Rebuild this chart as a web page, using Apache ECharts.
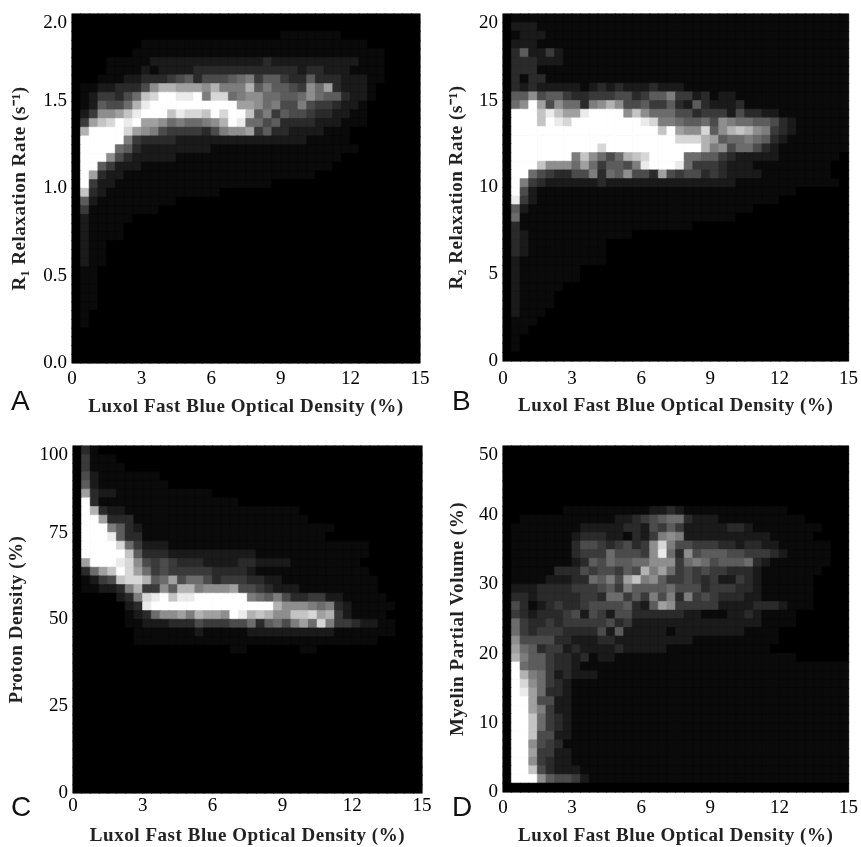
<!DOCTYPE html>
<html><head><meta charset="utf-8">
<style>html,body{margin:0;padding:0;background:#fff}#c{width:861px;height:847px;filter:blur(0.4px)}</style>
<script src="https://cdn.jsdelivr.net/npm/echarts@6/dist/echarts.min.js"></script>
</head><body><div id="c"></div>
<script>
// Grey level of each cell, one hex digit per column (0 black .. f white), top row first.
const rowsA = [
"","",
"0000000000000000000000001111111",
"000000001111111111111111111111111100",
"000000011111111111111111111111111111",
"000011111222222222222232222222222111",
"000011112122223333333333332332221111",
"000111223334563555678466433633322211",
"011223335"+"9bbaaa9b8"+"88b686654"+"97a32221",
"01244357cdffeef8dd7899776"+"6797663221",
"0126557be"+"ffffffffff"+"aa9785585443221",
"02499acefffceddcfdffc6846554332211",
"04acdfefaa9787789bfe7756"+"3333222111",
"0bffffda98544443"+"5899a463"+"32222111",
"0fffff843333"+"222222222222222"+"11111",
"0ffff76322222"+"22211111111111111111",
"0fff95322222"+"1111111111111111111",
"0ff642221111111111111111111111",
"0fa322111111111111111111111100",
"0f4221111111111111111110",
"0c321111111111111",
"062111111111",
"0411111111",
"0211111",
"021111","021111","021100","021100","0211","0110",
"011","011","011","011","01","01","","","",""
];
const rowsB = [
"0111111111111111111111111111111111111111",
"0222111111111111111111111111111111111111",
"0122211111111111111111111111111111111111",
"0222111111111111111111111111111111111111",
"0362242111111111111111111111111111111111",
"0333222111111111111111111111111111111111",
"0333111111111111111111111111111111111111",
"0313311111111111111111111111111111111111",
"032322222123232223222"+"1111111111111111111",
"0669566433444553466844231221"+"111111111111",
"079fa59773"+"89b955644632"+"632223"+"111111111111",
"0fffcecaaeffff"+"9c977755"+"34442"+"533221"+"111111111",
"0fffcfedf"+"fffffff"+"ed887667"+"59877665"+"32111111",
"0fffffffffffffffff"+"cfa99d69bcb98432"+"111111",
"0fffffffffffffffffff"+"dddba677876321"+"111111",
"0ffffffffffdfffffffffff"+"b895775321"+"1111111",
"0fffffff"+"8c9757bcd"+"ffff"+"77664322222"+"1111111",
"0fff"+"c9997a746658e"+"fff"+"e744432221"+"11111111",
"0ff"+"754335583769553a54553432"+"22211111111",
"0f843"+"222222"+"3"+"22222222222"+"2222"+"111111111111",
"0f52"+"111111111111111111111111111111",
"0e42"+"1111111111111111111111111111",
"062"+"11111111111111111111111111",
"071"+"111111111111111111111111",
"0311111111111111111111",
"032111111111111","032111111111","032111111111","021111111111","021111111","021111111",
"0211111","021111","021111","02111","0111","011","01","01",""
];
const rowsC = [
"031","04111","041111","0521111111","06211111111",
"0a32211111111111",
"0f31111111111111111",
"0fb32211111111111111111111",
"0ffa33311111111111111111111",
"0fff86321111111111111111111111",
"0fffe633111111111111111111111",
"0ffffd7422211111111111111111111111",
"0fffffc633322222222221111111111111",
"0afffed95454333222233222211111111",
"0"+"37acfda74"+"544444"+"3333"+"21"+"111111111111",
"0"+"1245cddb6"+"7a5775"+"344433221"+"1111111111",
"01122"+"38b44"+"96bb8"+"999a5"+"54322"+"2111111111",
"00000"+"238de"+"fcee"+"ffffff"+"87685334422"+"11111",
"000000"+"23e"+"ffffffffffffff"+"b999878321"+"1111",
"000000"+"123"+"799a8baa9febcb99ccdab421"+"111",
"000000"+"11222333544455736758a7d8443221"+"1",
"0000000"+"11111112111112222222222"+"1111111",
"00000001111111111111111111111111111",
"0000000000000000001100000011",
"","","","","","","","","","","","","","","",""
];
const rowsD = [
"","","","","","","",
"0000000"+"1111111111"+"2232"+"111111111111",
"00"+"11111111111"+"223456773222"+"1111111111",
"01"+"1111111"+"22222332546422222332"+"11111111",
"01"+"111111"+"2333221324898"+"2222222222111"+"11",
"01"+"111111"+"3554345349d85"+"5444332332"+"2111111",
"01"+"111111"+"3444755549e73"+"95666554443"+"211111",
"0111111"+"1"+"2365766779994"+"7875666732"+"1111111",
"011111"+"333"+"5455465b8a74"+"54544333"+"21111111",
"01111"+"222337685ac89644"+"54342243"+"2111111",
"0"+"2223333444564866667555344433"+"2111111",
"0"+"332333334437746485838454333"+"22111111",
"0"+"5312343345555632"+"6a94444422"+"22333"+"2111",
"0"+"43233345254255"+"333333"+"221112232"+"1111",
"0"+"74334344444534"+"222222222222222"+"1111",
"0"+"74344433335262"+"2222122222222"+"1111",
"0"+"95555332223322"+"2222222111"+"1111111",
"0"+"a763442322223"+"2222211111111"+"1111",
"0"+"b86643323122"+"111111111111111111111",
"0"+"f7664332"+"1111111111111111111111111111111",
"0"+"fb87423222"+"11111111111111111111111111111",
"0"+"fd974321"+"1111111111111111111111111111111",
"0"+"fea73321"+"1111111111111111111111111111111",
"0"+"ffa55221"+"1111111111111111111111111111111",
"0"+"ffa84221"+"1111111111111111111111111111111",
"0"+"ffc74321"+"1111111111111111111111111111111",
"0"+"ffc74321"+"1111111111111111111111111111111",
"0"+"ffc55221"+"1111111111111111111111111111111",
"0"+"ff954311"+"1111111111111111111111111111111",
"0"+"ffa44221"+"1111111111111111111111111111111",
"0"+"ff943221"+"1111111111111111111111111111111",
"0"+"ffc53222"+"1111111111111111111111111111111",
"0"+"fff965542"+"111111111111111111111111111111",
""
];
const greys = [0,10,26,42,58,75,92,108,125,142,160,178,196,215,235,255];
const xName = "Luxol Fast Blue Optical Density (%)";
const yNames = ["R\u2081 Relaxation Rate (s\u207B\u00B9)","R\u2082 Relaxation Rate (s\u207B\u00B9)","Proton Density (%)","Myelin Partial Volume (%)"];
const yMax = [2,20,100,50];
const yStep = [0.5,5,25,10];
const letters = ["A","B","C","D"];
const panels = [rowsA,rowsB,rowsC,rowsD];
const boxes = [[72,14,348,349],[503,14,348,347],[73,446,349,348],[503,446,348,347]];
const letterPos = [[11,388],[452,388],[11,794],[452,794]];
const xTickMargin = [7,9,4,7];
const xNameGap = [35,36,34,35];
const yNameGap = [42,36,46,35];

// The axis titles in the reference are set with slightly wide tracking.
const origFill = CanvasRenderingContext2D.prototype.fillText;
CanvasRenderingContext2D.prototype.fillText = function(t,x,y,m){
  this.letterSpacing = String(t).length>5 ? '0.55px' : '0px';
  return m===undefined ? origFill.call(this,t,x,y) : origFill.call(this,t,x,y,m);
};

const toColor=g=>`rgb(${g},${g},${g})`;
const idx=[...Array(40).keys()];
const serif='"Liberation Serif",serif';
const tickStyle={fontFamily:serif,fontWeight:'normal',fontSize:19,color:'#000'};
const nameStyle={fontFamily:serif,fontWeight:'bold',fontSize:19,color:'#222'};
const opt={animation:false,backgroundColor:'#fff',grid:[],xAxis:[],yAxis:[],series:[],title:[],
 visualMap:{show:false,type:'continuous',min:0,max:15,dimension:2,seriesIndex:[0,1,2,3],inRange:{color:greys.map(toColor)}}};
panels.forEach((rows,p)=>{
 const b=boxes[p];
 opt.grid.push({left:b[0],top:b[1],width:b[2],height:b[3],show:true,backgroundColor:'#000',borderWidth:0});
 opt.xAxis.push({type:'category',data:idx,gridIndex:p,show:false});
 opt.yAxis.push({type:'category',data:idx,gridIndex:p,show:false});
 opt.xAxis.push({type:'value',gridIndex:p,min:0,max:15,interval:3,position:'bottom',name:xName,nameLocation:'middle',nameGap:xNameGap[p],
  nameTextStyle:nameStyle,axisLine:{show:false},axisTick:{show:false},splitLine:{show:false},
  axisLabel:Object.assign({margin:xTickMargin[p]},tickStyle)});
 opt.yAxis.push({type:'value',gridIndex:p,min:0,max:yMax[p],interval:yStep[p],position:'left',name:yNames[p],nameLocation:'middle',nameGap:yNameGap[p],
  nameTextStyle:nameStyle,axisLine:{show:false},axisTick:{show:false},splitLine:{show:false},
  axisLabel:Object.assign({margin:5,verticalAlignMaxLabel:'top',formatter:p==0?(v=>v.toFixed(1)):undefined},tickStyle)});
 const data=[];
 rows.forEach((s,r)=>{const t=s.padEnd(40,'0');idx.forEach(c=>{const v=parseInt(t[c],16);
   data.push({value:[c,39-r,v],itemStyle:{borderWidth:0.6,borderColor:toColor(greys[v])}});});});
 opt.series.push({type:'heatmap',xAxisIndex:p*2,yAxisIndex:p*2,data:data,progressive:0,emphasis:{disabled:true},silent:true});
 opt.title.push({text:letters[p],left:letterPos[p][0],top:letterPos[p][1],padding:0,textStyle:{fontFamily:'"Liberation Sans",sans-serif',fontWeight:'normal',fontSize:28,color:'#111'}});
});
const chart=echarts.init(document.getElementById('c'),null,{renderer:'canvas'});
chart.setOption(opt);
</script></body></html>
